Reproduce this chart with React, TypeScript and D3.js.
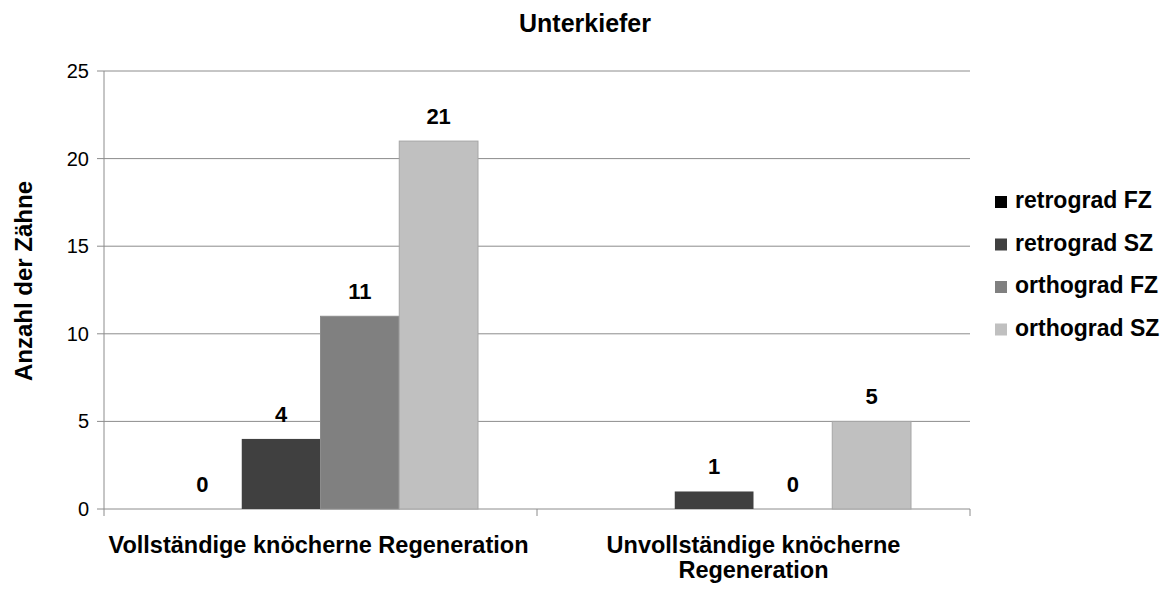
import React from "react";
import * as d3 from "d3";

const title = "Unterkiefer";
const yTitle = "Anzahl der Zähne";
const categories = [
  ["Vollständige knöcherne Regeneration"],
  ["Unvollständige knöcherne", "Regeneration"],
];
const seriesNames = ["retrograd FZ", "retrograd SZ", "orthograd FZ", "orthograd SZ"];
const seriesColors = ["#000000", "#404040", "#808080", "#c0c0c0"];
const values: (number | null)[][] = [
  [0, 4, 11, 21],
  [null, 1, 0, 5],
];
const yTicks = [0, 5, 10, 15, 20, 25];

export default function App() {
  const W = 1173, H = 590;
  const left = 104, right = 970, top = 71, bottom = 509;
  const x0 = d3.scaleBand<number>().domain(categories.map((_, i) => i)).range([left, right]).paddingInner(0).paddingOuter(0);
  const y = d3.scaleLinear().domain([0, 25]).range([bottom, top]);
  const bw = x0.bandwidth();
  const x1 = d3.scaleBand<number>().domain(seriesNames.map((_, i) => i)).range([59, bw - 59]).padding(0);
  const font = "'Liberation Sans', Arial, sans-serif";
  return (
    <svg width={W} height={H} style={{ position: "absolute", left: 0, top: 0, background: "#fff" }} fontFamily={font}>
      <text x={585} y={32} textAnchor="middle" fontWeight="bold" fontSize={25}>{title}</text>
      {yTicks.map((t) => (
        <g key={t}>
          <line x1={left - 7} x2={right} y1={y(t)} y2={y(t)} stroke="#8c8c8c" strokeWidth={1} />
          <text x={89} y={y(t) + 7} textAnchor="end" fontSize={20}>{t}</text>
        </g>
      ))}
      <line x1={left} x2={left} y1={top} y2={bottom} stroke="#8c8c8c" />
      {[0, 1, 2].map((i) => {
        const xx = left + i * bw;
        return <line key={i} x1={xx} x2={xx} y1={bottom} y2={bottom + 7} stroke="#8c8c8c" />;
      })}
      {values.map((row, ci) => (
        <g key={ci}>
          {row.map((v, si) => {
            if (v === null) return null;
            const bx = (x0(ci) as number) + (x1(si) as number);
            return (
              <g key={si}>
                {v > 0 && (
                  <rect x={bx} y={y(v)} width={x1.bandwidth()} height={y(0) - y(v)} fill={seriesColors[si]}
                    stroke={si === 3 ? "#a6a6a6" : si === 2 ? "#8c8c8c" : "none"} strokeWidth={1} />
                )}
                <text x={bx + x1.bandwidth() / 2} y={y(v) - 17} textAnchor="middle" fontWeight="bold" fontSize={22}>{v}</text>
              </g>
            );
          })}
          {categories[ci].map((line, li) => (
            <text key={li} x={(x0(ci) as number) + bw / 2 + (ci === 0 ? -2 : 0)} y={553 + li * 25}
              textAnchor="middle" fontWeight="bold" fontSize={23.5}>{line}</text>
          ))}
        </g>
      ))}
      <text transform={`translate(32,281) rotate(-90)`} textAnchor="middle" fontWeight="bold" fontSize={24}>{yTitle}</text>
      {seriesNames.map((s, i) => (
        <g key={s}>
          <rect x={995} y={196 + i * 42.5} width={12} height={12} fill={seriesColors[i]} />
          <text x={1015} y={208 + i * 42.5} fontWeight="bold" fontSize={23}>{s}</text>
        </g>
      ))}
    </svg>
  );
}
